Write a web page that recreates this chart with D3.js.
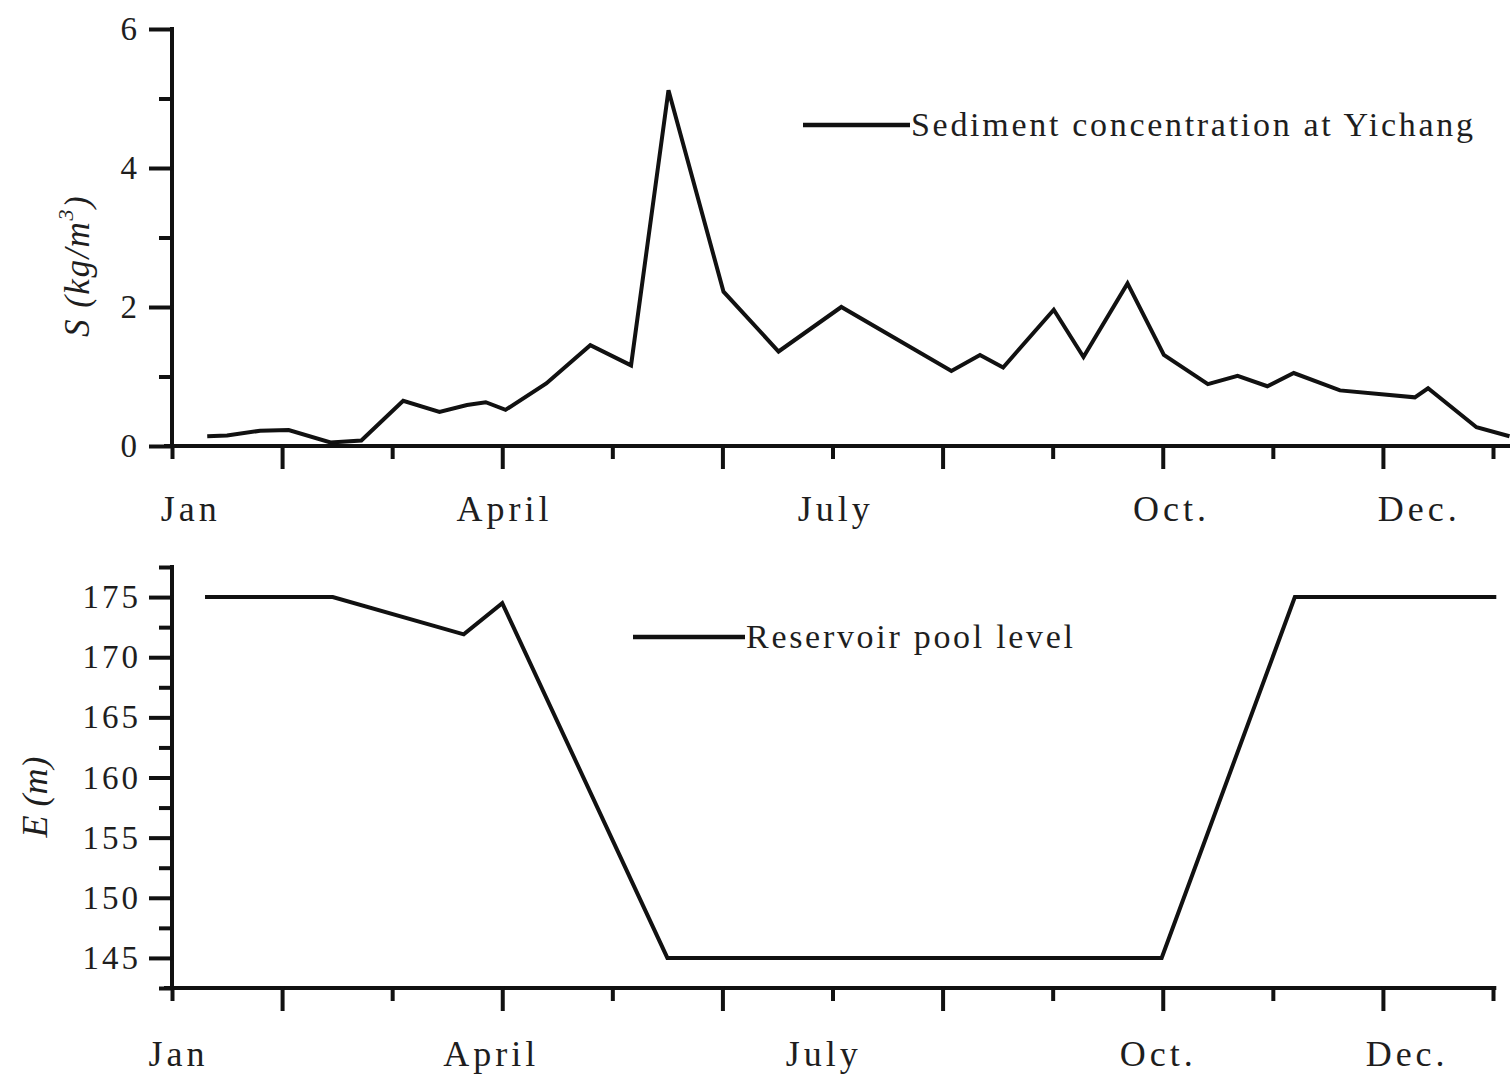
<!DOCTYPE html>
<html>
<head>
<meta charset="utf-8">
<script src="https://cdn.jsdelivr.net/npm/d3@7/dist/d3.min.js"></script>
<style>
  html, body { margin: 0; padding: 0; background: #fff; }
  svg { display: block; }
  text { font-family: "Liberation Serif", "Times New Roman", serif; fill: #1e1e1e; }
</style>
</head>
<body>
<svg id="chart" width="1510" height="1074"></svg>
<script>
// Sediment concentration at Yichang (kg/m^3); position in months from the start of January
const sedMonth = [0.32, 0.50, 0.80, 1.06, 1.44, 1.72, 2.10, 2.43, 2.68, 2.85, 3.03, 3.40, 3.80, 4.17,
                  4.51, 5.01, 5.51, 6.08, 7.08, 7.34, 7.55, 8.01, 8.28, 8.68, 9.01, 9.41, 9.68, 9.95,
                  10.19, 10.61, 11.29, 11.41, 11.85, 12.15];
const sedValue = [0.14, 0.15, 0.22, 0.23, 0.05, 0.08, 0.65, 0.49, 0.59, 0.63, 0.52, 0.90, 1.45, 1.16,
                  5.12, 2.22, 1.36, 2.00, 1.08, 1.31, 1.13, 1.96, 1.28, 2.34, 1.31, 0.89, 1.01, 0.86,
                  1.05, 0.80, 0.70, 0.83, 0.27, 0.14];

// Reservoir pool level (m)
const poolMonth = [0.30, 1.46, 2.65, 3.00, 4.50, 8.99, 10.20, 12.03];
const poolLevel = [175, 175, 171.9, 174.5, 145, 145, 175, 175];

// Month labels and where they sit along each time axis (in months)
const monthLabels = ["Jan", "April", "July", "Oct.", "Dec."];
const sedLabelAt  = [0.17, 3.02, 6.03, 9.08, 11.33];
const poolLabelAt = [0.06, 2.90, 5.92, 8.96, 11.22];

// Tick values
const monthMajor = [1, 3, 5, 7, 9, 11];
const monthMinor = [0, 2, 4, 6, 8, 10, 12];
const sedTicks = [0, 2, 4, 6];
const sedMinor = [1, 3, 5];
const poolTicks = [145, 150, 155, 160, 165, 170, 175];
const poolMinor = [142.5, 147.5, 152.5, 157.5, 162.5, 167.5, 172.5, 177.5];

const svg = d3.select("#chart");
const INK = "#111";
const AXIS_W = 4;
const LINE_W = 4;

const x = d3.scaleLinear().domain([0, 12]).range([172, 1493]);

function drawPanel(opt) {
  const g = svg.append("g");
  const y = opt.y;
  const y0 = y.range()[0];

  // minor x ticks
  g.append("g")
    .attr("transform", `translate(0,${y0})`)
    .call(d3.axisBottom(x).tickValues(monthMinor).tickSize(11).tickSizeOuter(0).tickFormat(""))
    .call(a => a.select(".domain").remove());
  // major x ticks + axis line
  g.append("g")
    .attr("transform", `translate(0,${y0})`)
    .call(d3.axisBottom(x).tickValues(monthMajor).tickSize(21).tickSizeOuter(0).tickFormat(""))
    .call(a => a.select(".domain").attr("d", `M${x(0) - 8},0H${x(opt.xEnd)}`));

  // y ticks
  g.append("g")
    .attr("transform", `translate(${x(0)},0)`)
    .call(d3.axisLeft(y).tickValues(opt.yMinor).tickSize(11).tickSizeOuter(0).tickFormat(""))
    .call(a => a.select(".domain").remove());
  const ya = g.append("g")
    .attr("transform", `translate(${x(0)},0)`)
    .call(d3.axisLeft(y).tickValues(opt.yTicks).tickSize(21).tickSizeOuter(0)
      .tickPadding(opt.tickPad).tickFormat(d3.format("d")));
  ya.select(".domain").attr("d", `M0,${y.range()[1] - 2}V${y0}`);
  ya.selectAll("text")
    .attr("font-size", opt.tickFont)
    .attr("letter-spacing", opt.tickSpacing)
    .attr("font-family", "Liberation Serif, Times New Roman, serif")
    .attr("fill", "#1e1e1e");

  g.selectAll(".domain, .tick line")
    .attr("stroke", INK)
    .attr("stroke-width", AXIS_W)
    .attr("stroke-linecap", "square");
  g.selectAll(".domain").attr("stroke-linecap", "butt").attr("fill", "none");

  // month labels
  g.append("g").selectAll("text")
    .data(monthLabels)
    .join("text")
    .attr("x", (d, i) => x(opt.labelAt[i]))
    .attr("y", y0 + opt.labelDrop)
    .attr("text-anchor", "middle")
    .attr("font-size", 36)
    .attr("letter-spacing", 4)
    .text(d => d);

  // series line
  const pts = opt.xs.map((m, i) => [m, opt.vs[i]]);
  g.append("path")
    .datum(pts)
    .attr("fill", "none")
    .attr("stroke", INK)
    .attr("stroke-width", LINE_W)
    .attr("stroke-linejoin", "miter")
    .attr("d", d3.line().x(d => x(d[0])).y(d => y(d[1])));

  // legend
  const lg = g.append("g");
  lg.append("line")
    .attr("x1", opt.legend.x1).attr("x2", opt.legend.x2)
    .attr("y1", opt.legend.y).attr("y2", opt.legend.y)
    .attr("stroke", INK).attr("stroke-width", 4.4);
  lg.append("text")
    .attr("x", opt.legend.x2 + 1)
    .attr("y", opt.legend.y + 11)
    .attr("font-size", 34)
    .attr("letter-spacing", 2.7)
    .text(opt.legend.text);

  return g;
}

// Upper panel: sediment concentration
const ySed = d3.scaleLinear().domain([0, 6]).range([446, 29]);
drawPanel({
  y: ySed, yTicks: sedTicks, yMinor: sedMinor,
  xs: sedMonth, vs: sedValue, labelAt: sedLabelAt, labelDrop: 75,
  xEnd: 12.3, tickFont: 33, tickSpacing: 0, tickPad: 14,
  legend: { x1: 803, x2: 910, y: 125, text: "Sediment concentration at Yichang" }
});

// Lower panel: reservoir pool level
const yPool = d3.scaleLinear().domain([142.5, 177.5]).range([988, 567]);
drawPanel({
  y: yPool, yTicks: poolTicks, yMinor: poolMinor,
  xs: poolMonth, vs: poolLevel, labelAt: poolLabelAt, labelDrop: 78,
  xEnd: 12.03, tickFont: 33, tickSpacing: 3, tickPad: 10,
  legend: { x1: 633, x2: 745, y: 637, text: "Reservoir pool level" }
});

// Axis titles
const sTitle = svg.append("text")
  .attr("transform", "translate(89,266) rotate(-90)")
  .attr("text-anchor", "middle")
  .attr("font-size", 35)
  .attr("font-style", "italic")
  .attr("letter-spacing", 1.5)
  .attr("fill", "#3a3434");
sTitle.append("tspan").text("S (kg/m");
sTitle.append("tspan").attr("font-size", 22).attr("dy", -16).text("3");
sTitle.append("tspan").attr("dy", 16).text(")");

svg.append("text")
  .attr("transform", "translate(47,797) rotate(-90)")
  .attr("text-anchor", "middle")
  .attr("font-size", 36)
  .attr("font-style", "italic")
  .attr("fill", "#2a2626")
  .text("E (m)");
</script>
</body>
</html>
